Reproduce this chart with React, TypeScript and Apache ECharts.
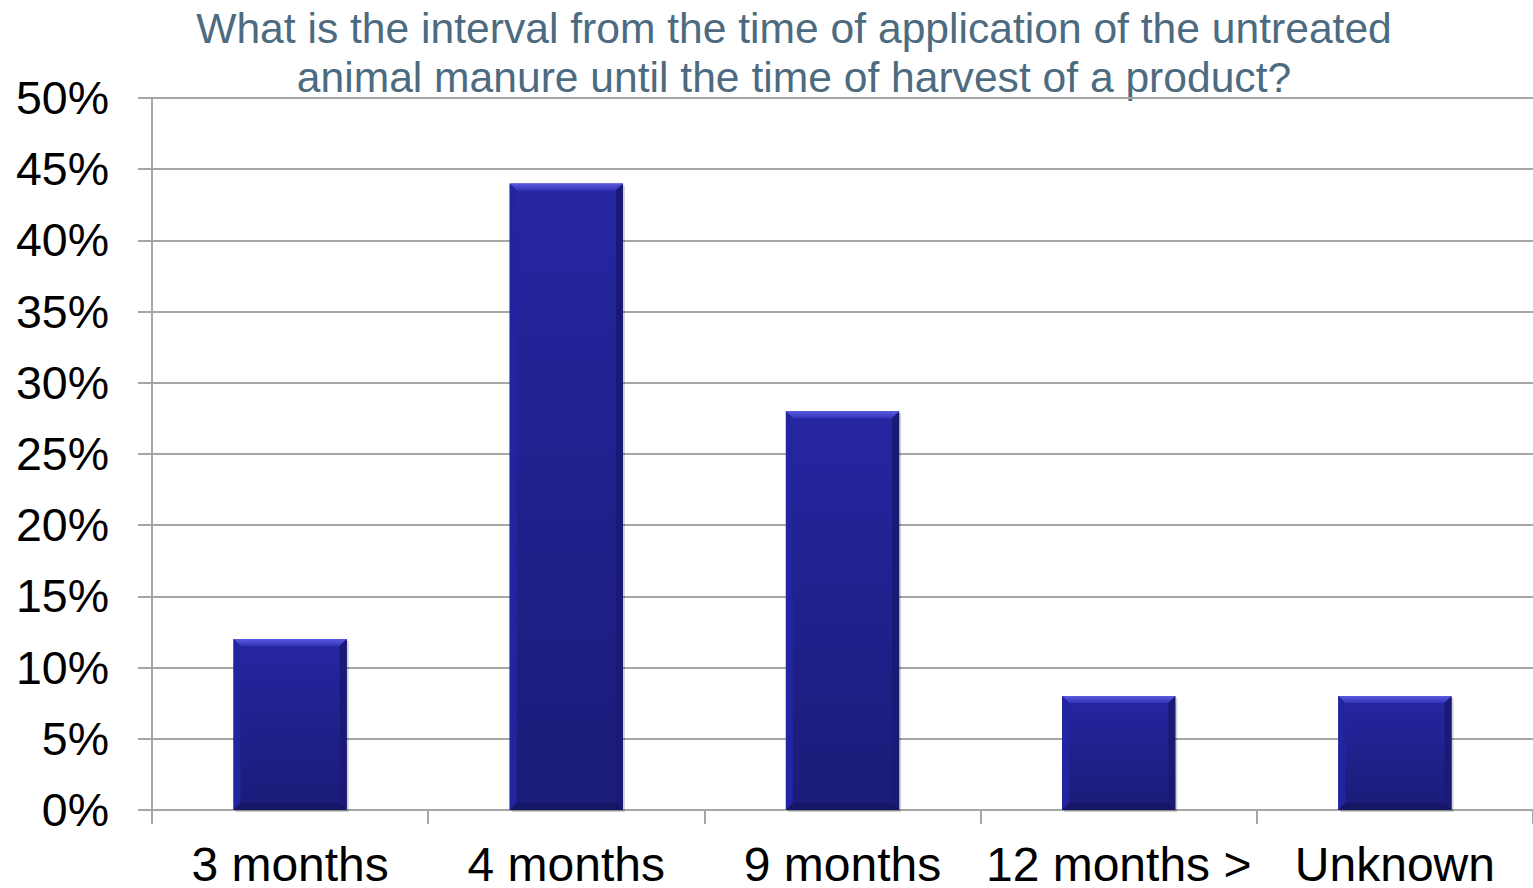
import React, { useEffect, useRef } from "react";
import * as echarts from "echarts";

const categories = ["3 months", "4 months", "9 months", "12 months >", "Unknown"];
const values = [12, 44, 28, 8, 8];
const titleLines = [
  "What is the interval from the time of application of the untreated",
  "animal manure until the time of harvest of a product?",
];

export default function App() {
  const ref = useRef<HTMLDivElement>(null);
  useEffect(() => {
    document.body.style.margin = "0";
    const chart = echarts.init(ref.current!, null, { renderer: "svg" });
    const font = "Liberation Sans, Arial, sans-serif";
    const bev = 7;
    const option: any = {
      animation: false,
      backgroundColor: "#ffffff",
      grid: { left: 152, right: 0, top: 98, bottom: 76 },
      graphic: [
        {
          type: "text",
          x: 794,
          y: 52,
          style: {
            text: titleLines.join("\n"),
            font: `42.6px ${font}`,
            fill: "#4d6b80",
            textAlign: "center",
            textVerticalAlign: "middle",
            lineHeight: 49,
          },
        },
      ],
      xAxis: {
        type: "category",
        data: categories,
        axisLine: { show: true, lineStyle: { color: "#a6a6a6", width: 2 } },
        axisTick: { show: true, length: 14, alignWithLabel: false, lineStyle: { color: "#a6a6a6", width: 2 } },
        axisLabel: { color: "#000", fontSize: 48, fontFamily: font, margin: 30, interval: 0 },
        splitLine: { show: false },
      },
      yAxis: {
        type: "value",
        min: 0,
        max: 50,
        interval: 5,
        axisLine: { show: true, lineStyle: { color: "#a6a6a6", width: 2 } },
        axisTick: { show: true, length: 14, lineStyle: { color: "#a6a6a6", width: 2 } },
        axisLabel: {
          color: "#000",
          fontSize: 46.5,
          fontFamily: font,
          margin: 43,
          formatter: (v: number) => `${v}%`,
        },
        splitLine: { show: true, lineStyle: { color: "#a6a6a6", width: 2 } },
      },
      series: [
        {
          type: "custom",
          data: values.map((v, i) => [i, v]),
          encode: { x: 0, y: 1 },
          renderItem: (params: any, api: any) => {
            const idx = api.value(0);
            const top = api.coord([idx, api.value(1)]);
            const base = api.coord([idx, 0]);
            const bw = api.size([1, 0])[0] * 0.41;
            const x0 = top[0] - bw / 2;
            const x1 = top[0] + bw / 2;
            const y0 = top[1];
            const y1 = base[1];
            return {
              type: "group",
              children: [
                {
                  type: "rect",
                  shape: { x: x0 + 2, y: y0 + 2, width: bw, height: y1 - y0 },
                  style: { fill: "rgba(0,0,0,0.18)" },
                },
                {
                  type: "rect",
                  shape: { x: x0, y: y0, width: bw, height: y1 - y0 },
                  style: {
                    fill: new echarts.graphic.LinearGradient(0, 0, 0, 1, [
                      { offset: 0, color: "#2626a2" },
                      { offset: 1, color: "#1b1b78" },
                    ]),
                  },
                },
                {
                  type: "polygon",
                  shape: { points: [[x0, y0], [x1, y0], [x1 - bev, y0 + bev], [x0 + bev, y0 + bev]] },
                  style: {
                    fill: new echarts.graphic.LinearGradient(0, 0, 0, 1, [
                      { offset: 0, color: "#5a5ae0" },
                      { offset: 1, color: "#3434b8" },
                    ]),
                  },
                },
                {
                  type: "polygon",
                  shape: { points: [[x0, y0], [x0 + bev, y0 + bev], [x0 + bev, y1 - bev], [x0, y1]] },
                  style: { fill: "#2424a0" },
                },
                {
                  type: "polygon",
                  shape: { points: [[x1, y0], [x1 - bev, y0 + bev], [x1 - bev, y1 - bev], [x1, y1]] },
                  style: { fill: "#1a1a76" },
                },
                {
                  type: "polygon",
                  shape: { points: [[x0, y1], [x0 + bev, y1 - bev], [x1 - bev, y1 - bev], [x1, y1]] },
                  style: { fill: "#161666" },
                },
              ],
            };
          },
        },
      ],
    };
    chart.setOption(option);
    const onResize = () => chart.resize();
    window.addEventListener("resize", onResize);
    return () => {
      window.removeEventListener("resize", onResize);
      chart.dispose();
    };
  }, []);
  return (
    <div
      ref={ref}
      style={{ position: "fixed", left: 0, top: 0, width: 1533, height: 888 }}
    />
  );
}
